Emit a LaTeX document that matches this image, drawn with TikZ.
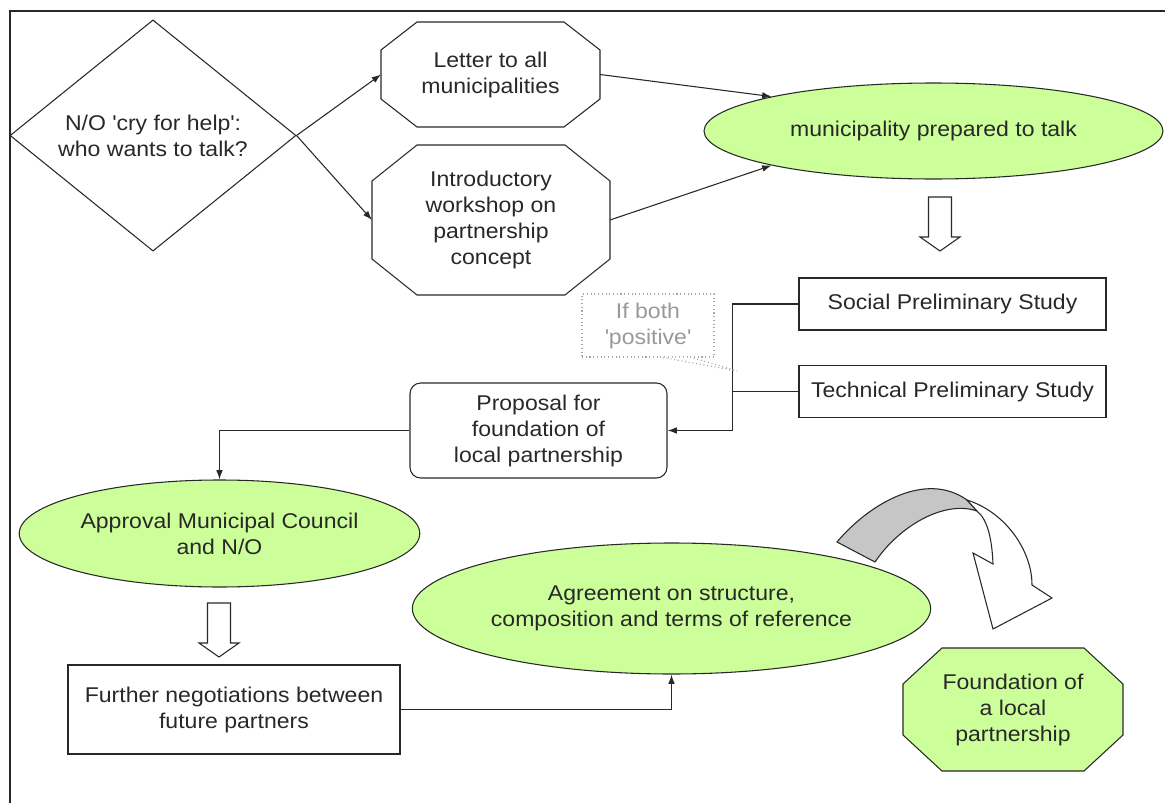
\documentclass[tikz,border=0pt]{standalone}
\usepackage{fontspec}
\setmainfont{Liberation Sans}[FakeStretch=1.08]
\usetikzlibrary{shapes.geometric,arrows.meta,calc,backgrounds}
\definecolor{leaf}{RGB}{204,255,153}
\definecolor{ink}{RGB}{40,40,40}
\newlength\px
\setlength\px{0.75pt}
% octagon round a named node: node, horizontal cut, vertical cut
\newcommand{\octpath}[3]{($(#1.north west)+(#2,0)$) -- ($(#1.north east)+(-#2,0)$)
  -- ($(#1.north east)+(0,#3)$) -- ($(#1.south east)+(0,-#3)$) -- ($(#1.south east)+(-#2,0)$)
  -- ($(#1.south west)+(#2,0)$) -- ($(#1.south west)+(0,-#3)$) -- ($(#1.north west)+(0,#3)$) -- cycle}

\begin{document}
\begin{tikzpicture}
[x=0.75pt,y=-0.75pt,%
  every node/.style={font=\fontsize{16}{19.5}\selectfont,text=ink,align=center,inner sep=2pt},%
  line/.style={draw=ink,line width=0.8pt},%
  flow/.style={line,-{Latex[length=7pt,width=5pt]}},%
  box/.style={line,rectangle,minimum width=307\px,minimum height=52\px},%
  oval/.style={line,ellipse,fill=leaf},%
  octo/.style={rectangle,outer sep=0pt},%
  hollow/.style={line,fill=white}]
\useasboundingbox (0,0) rectangle (1165,803);
\draw[ink,line width=1.3pt] (10,803) -- (10,11) -- (1165,11);

% top row
\node[line,diamond,minimum width=286\px,minimum height=175\px,inner sep=0pt] (cry) at (153,135.5)
  {N/O \textquotesingle cry for help\textquotesingle:\\who wants to talk?};
\node[octo,minimum width=219\px,minimum height=105\px] (letter) at (490.5,74.5)
  {Letter to all\\municipalities};
\node[octo,minimum width=238\px,minimum height=150\px] (intro) at (491,220)
  {Introductory\\workshop on\\partnership\\concept};
\node[oval,minimum width=459\px,minimum height=96\px] (muni) at (933.5,131)
  {municipality prepared to talk};

% studies
\node[box] (social) at (952.5,304) {Social Preliminary Study};
\node[box] (tech) at (952.5,391.5) {Technical Preliminary Study};
\node[draw=black!35,dotted,line width=0.8pt,text=black!40,minimum width=132\px,minimum height=63\px]
  (note) at (648,325.5) {If both\\\textquotesingle positive\textquotesingle};
\coordinate (notetip) at (737,371);
\node[line,rectangle,rounded corners=8pt,minimum width=257\px,minimum height=95\px] (prop) at (538.5,430.5)
  {Proposal for\\foundation of\\local partnership};

% lower part
\node[oval,minimum width=383\px,minimum height=107\px] (appr) at (219.5,533.5)
  {Approval Municipal Council\\and N/O};
\node[box,minimum width=332\px,minimum height=89\px] (neg) at (234,709.5)
  {Further negotiations between\\future partners};
\node[oval,minimum width=467\px,minimum height=131\px] (agree) at (671.5,608.5)
  {Agreement on structure,\\composition and terms of reference};
\node[octo,minimum width=220\px,minimum height=123\px] (found) at (1013,709.5)
  {Foundation of\\a local\\partnership};

\begin{scope}[on background layer]
  \draw[line,fill=white] \octpath{letter}{36}{28};
  \draw[line,fill=white] \octpath{intro}{45}{36};
  \draw[line,fill=leaf] \octpath{found}{39}{36};
\end{scope}

% connectors
\draw[flow] (cry.east) -- (letter.west);
\draw[flow] (cry.east) -- (intro.west);
\draw[flow] (letter.east) -- (muni.168);
\draw[flow] (intro.east) -- (muni.192);
\draw[flow] (social.west) -- ++(-66,0) |- (prop.east);
\draw[line] (tech.west) -- ++(-66,0);
\draw[flow] (prop.west) -| (appr.north);
\draw[flow] (neg.east) -| (agree.south);
\draw[black!35,dotted,line width=0.8pt,fill=white] ($(note.south)+(15,0)$) -- (notetip) -- ($(note.south)+(44,0)$);

% hollow arrows
\coordinate (gap1) at (940,197);
\coordinate (gap2) at (219,603);
\draw[hollow] ($(gap1)+(-11.5,0)$) -- ++(23,0) -- ++(0,40) -- ++(8.5,0) -- ($(gap1)+(0,54)$)
  -- ($(gap1)+(-20,40)$) -- ++(8.5,0) -- cycle;
\draw[hollow] ($(gap2)+(-11.5,0)$) -- ++(23,0) -- ++(0,40) -- ++(8.5,0) -- ($(gap2)+(0,54)$)
  -- ($(gap2)+(-20,40)$) -- ++(8.5,0) -- cycle;

% curved arrow
\draw[line,fill=gray!45] (837,542) .. controls (868,505) and (925,470) .. (967,500) -- (977,511)
  .. controls (945,500) and (900,525) .. (875,562) -- cycle;
\draw[line,fill=white] (967,500) .. controls (1005,512) and (1032,550) .. (1032,585) -- (1052,598)
  -- (993,629) -- (973,553) -- (993,564) .. controls (992,540) and (988,520) .. (977,511) -- cycle;
\end{tikzpicture}
\end{document}
